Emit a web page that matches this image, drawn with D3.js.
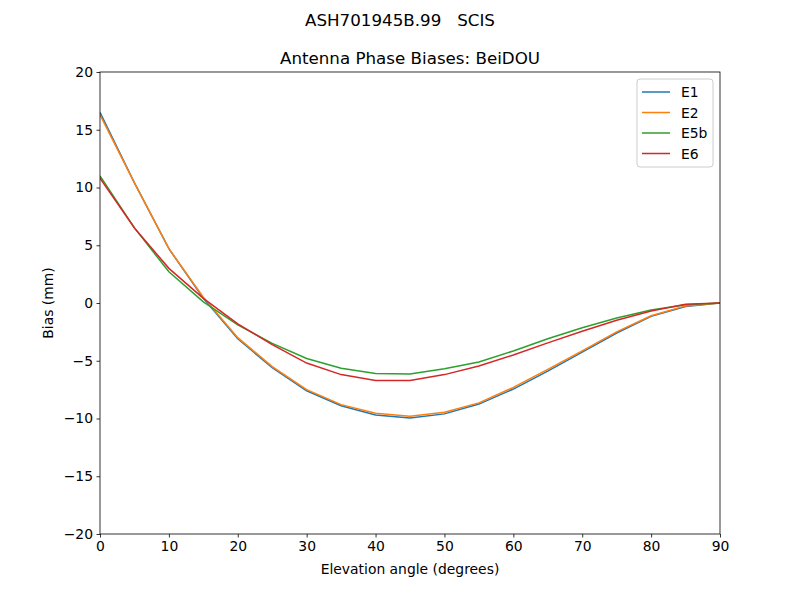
<!DOCTYPE html>
<html><head><meta charset="utf-8">
<script src="https://cdn.jsdelivr.net/npm/d3@7"></script>
<style>body{margin:0;background:#fff}svg{font-family:"DejaVu Sans",sans-serif}</style>
</head><body><svg id="c" width="800" height="600"></svg>
<script>
const elev = [0,5,10,15,20,25,30,35,40,45,50,55,60,65,70,75,80,85,90];
const E1  = [16.5,10.4,4.7,0.4,-3.1,-5.6,-7.6,-8.9,-9.7,-9.95,-9.6,-8.75,-7.45,-5.9,-4.25,-2.6,-1.15,-0.3,0];
const E2  = [16.3,10.4,4.7,0.5,-3.0,-5.5,-7.5,-8.8,-9.55,-9.8,-9.45,-8.65,-7.3,-5.75,-4.15,-2.5,-1.1,-0.25,0];
const E5b = [11.0,6.5,2.7,0.1,-1.9,-3.5,-4.8,-5.65,-6.1,-6.15,-5.7,-5.1,-4.15,-3.1,-2.15,-1.3,-0.6,-0.15,0];
const E6  = [10.8,6.5,3.0,0.4,-1.8,-3.6,-5.2,-6.2,-6.7,-6.7,-6.2,-5.45,-4.5,-3.45,-2.45,-1.5,-0.7,-0.1,0];
const seriesNames = ["E1","E2","E5b","E6"];
const seriesData = [E1,E2,E5b,E6];
const colors = ["#1f77b4","#ff7f0e","#2ca02c","#d62728"];
const xTicks = [0,10,20,30,40,50,60,70,80,90];
const yTicks = [-20,-15,-10,-5,0,5,10,15,20];

const svg = d3.select("#c");
const L=100,R=720,T=72,B=534;
const x = d3.scaleLinear().domain([0,90]).range([L,R]);
const y = d3.scaleLinear().domain([-20,20]).range([B,T]);

const line = d3.line().x((d,i)=>x(elev[i])).y(d=>y(d));
const g = svg.append("g");
g.append("defs").append("clipPath").attr("id","clip").append("rect").attr("x",L).attr("y",T).attr("width",R-L).attr("height",B-T);
seriesData.forEach((s,k)=>{
  g.append("path").attr("d",line(s)).attr("fill","none").attr("stroke",colors[k]).attr("stroke-width",1.5).attr("clip-path","url(#clip)");
});

const xa = svg.append("g").attr("transform",`translate(0,${B})`).call(d3.axisBottom(x).tickValues(xTicks).tickSize(3.5).tickPadding(3.5));
const ya = svg.append("g").attr("transform",`translate(${L},0)`).call(d3.axisLeft(y).tickValues(yTicks).tickSize(3.5).tickPadding(3.5).tickFormat(d=>d<0?"\u2212"+Math.abs(d):d));
[xa,ya].forEach(a=>{a.select(".domain").remove();a.selectAll("text").attr("font-size","13.9px").attr("fill","#000").attr("font-family","DejaVu Sans");a.selectAll("line").attr("stroke","#000").attr("stroke-width",0.8);});

svg.append("rect").attr("x",L).attr("y",T).attr("width",R-L).attr("height",B-T).attr("fill","none").attr("stroke","#000").attr("stroke-width",0.8);

svg.append("text").attr("x",400).attr("y",26).attr("text-anchor","middle").attr("font-size","16.7px").attr("xml:space","preserve").style("white-space","pre").text("ASH701945B.99   SCIS");
svg.append("text").attr("x",410).attr("y",64).attr("text-anchor","middle").attr("font-size","16.7px").text("Antenna Phase Biases: BeiDOU");
svg.append("text").attr("x",410).attr("y",574).attr("text-anchor","middle").attr("font-size","13.9px").text("Elevation angle (degrees)");
svg.append("text").attr("transform",`translate(53,${(T+B)/2}) rotate(-90)`).attr("text-anchor","middle").attr("font-size","13.9px").text("Bias (mm)");

const lg = svg.append("g");
lg.append("rect").attr("x",637).attr("y",79).attr("width",76).attr("height",88).attr("rx",3).attr("fill","#fff").attr("fill-opacity",0.8).attr("stroke","#ccc").attr("stroke-width",1);
seriesNames.forEach((n,k)=>{
  const yy = 92 + k*20.5;
  lg.append("line").attr("x1",642).attr("x2",670).attr("y1",yy).attr("y2",yy).attr("stroke",colors[k]).attr("stroke-width",1.5);
  lg.append("text").attr("x",681).attr("y",yy+5).attr("font-size","13.9px").text(n);
});
</script></body></html>
